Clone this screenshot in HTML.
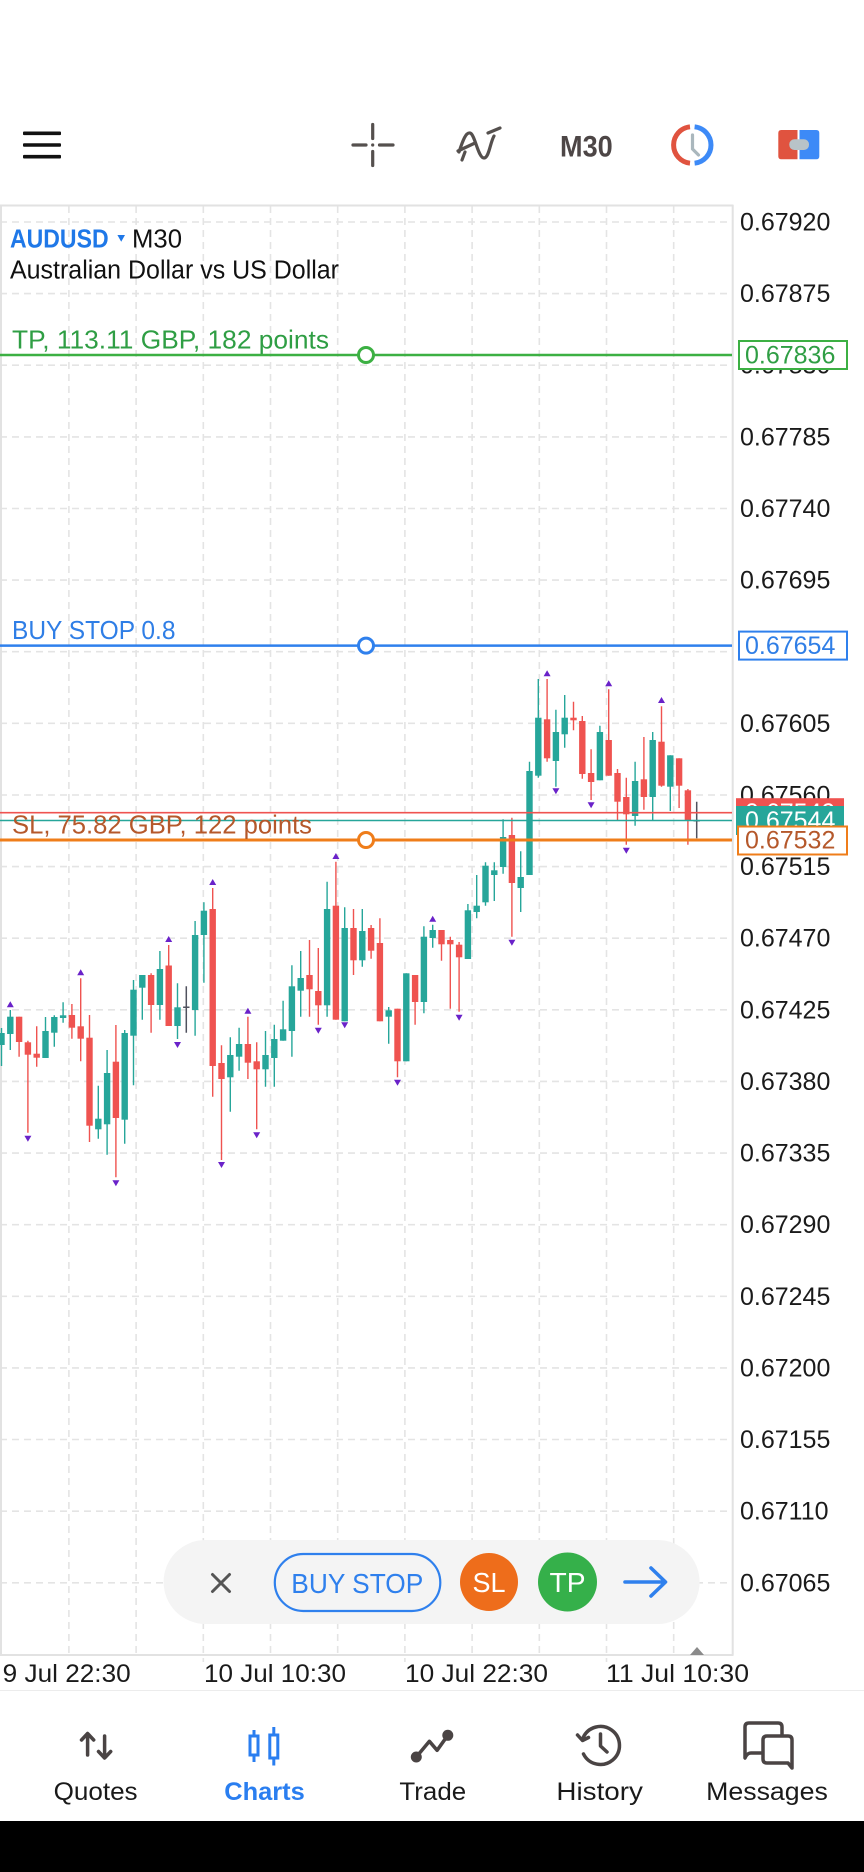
<!DOCTYPE html>
<html><head><meta charset="utf-8"><style>
html,body{margin:0;padding:0;background:#fff;}
svg{display:block;}
text{font-family:"Liberation Sans",sans-serif;}
</style></head><body>
<svg width="864" height="1872" viewBox="0 0 864 1872" xmlns="http://www.w3.org/2000/svg">
<rect x="0" y="0" width="864" height="1872" fill="#fff"/>

<!-- toolbar -->
<g fill="#111">
<rect x="23" y="131.5" width="38" height="3.6" rx="1"/>
<rect x="23" y="143.2" width="38" height="3.6" rx="1"/>
<rect x="23" y="154.9" width="38" height="3.6" rx="1"/>
</g>
<g stroke="#55504e" stroke-width="3.2" stroke-linecap="round" fill="none">
<path d="M353 145H366M379.5 145H393M372.7 124.5V138.5M372.7 151.5V165.5"/>
<path d="M459 152C463 140 466 132 470 133C475 134 478 158 484 158C489 158 490 143 494 136"/>
<path d="M458 151L475 143M488 133L500 128M462 160L465 152"/>
</g>
<circle cx="372.7" cy="145" r="1.6" fill="#55504e"/>
<text x="560" y="156.5" font-size="30" font-weight="bold" fill="#4d4646" textLength="52.7" lengthAdjust="spacingAndGlyphs">M30</text>
<path d="M690 126.8A18.3 18.3 0 0 0 690 163.2" stroke="#e0533f" stroke-width="5" fill="none"/>
<path d="M694.6 126.8A18.3 18.3 0 0 1 694.6 163.2" stroke="#3d8af7" stroke-width="5" fill="none"/>
<path d="M692.5 135V149L698.5 155" stroke="#aab7bd" stroke-width="3.2" fill="none" stroke-linecap="round"/>
<path d="M781.3 130H797.5V159.3H781.3Q778.3 159.3 778.3 156.3V133Q778.3 130 781.3 130Z" fill="#e0533f"/>
<path d="M799.5 130H816.3Q819.3 130 819.3 133V156.3Q819.3 159.3 816.3 159.3H799.5Z" fill="#3d8af7"/>
<rect x="789.3" y="139.3" width="19.7" height="10.7" rx="5" fill="#b8c3c8"/>

<!-- grid -->
<g stroke="#e4e4e4" stroke-width="1.6" stroke-dasharray="7 5" fill="none">
<path d="M0 222H732M0 293.6H732M0 365.2H732M0 436.9H732M0 508.5H732M0 580.1H732M0 651.7H732M0 723.3H732M0 795H732M0 866.6H732M0 938.2H732M0 1009.8H732M0 1081.4H732M0 1153.1H732M0 1224.7H732M0 1296.3H732M0 1367.9H732M0 1439.5H732M0 1511.2H732M0 1582.8H732"/>
<path d="M68.9 206V1655M136.1 206V1655M203.3 206V1662M270.5 206V1655M337.7 206V1655M404.9 206V1662M472.1 206V1655M539.3 206V1655M606.5 206V1662M673.7 206V1655"/>
</g>
<g stroke="#e2e2e2" stroke-width="2" fill="none">
<path d="M0 205.5H733.5M732.7 205V1655M0 1655H733.5M1 205V1655"/>
</g>

<!-- candles teal -->
<path stroke="#26a69a" stroke-width="1.4" fill="none" d="M1.5 1028V1066M10.3 1010V1050M45.5 1017V1058M54.3 1015.3V1046.7M63.1 1002.3V1022.7M98.3 1085.7V1138.7M107.1 1050V1154.7M124.7 1030V1143.7M133.5 980V1085.3M142.3 975V1019.7M159.9 951V1019.7M177.5 983.3V1039M195.1 921V1035.7M203.9 902.3V982.7M230.3 1037.3V1111.7M239.1 1027.7V1070.7M265.5 1031V1086.7M274.3 1024.7V1086.7M283.1 1000.7V1040.7M291.9 965.3V1056.7M300.7 951V1016.7M327.1 881.7V1016.7M344.7 907.3V1021.3M362.3 909V966.7M388.7 1007V1043.7M406.3 973.3V1061.3M423.9 926.3V1013.3M432.7 924.7V947.7M467.9 904V959M476.7 875V918.3M485.5 862.3V905.7M494.3 862.3V901M503.1 819.3V873.7M520.7 851.3V912M529.5 761.7V875M538.3 679V777.7M555.9 709.7V786.7M564.7 695V747.7M599.9 725.7V780.3M635.1 761.7V825.7M652.7 732V820.3M670.3 755.3V811"/>
<g fill="#26a69a">
<rect x="-1.7" y="1033" width="6.4" height="12"/>
<rect x="7.1" y="1016.7" width="6.4" height="17.3"/>
<rect x="42.3" y="1031" width="6.4" height="27"/>
<rect x="51.1" y="1017" width="6.4" height="15.7"/>
<rect x="59.9" y="1015.3" width="6.4" height="2.7"/>
<rect x="95.1" y="1118.7" width="6.4" height="10.6"/>
<rect x="103.9" y="1073" width="6.4" height="51.3"/>
<rect x="121.5" y="1033" width="6.4" height="86.7"/>
<rect x="130.3" y="989.7" width="6.4" height="46"/>
<rect x="139.1" y="975" width="6.4" height="12.7"/>
<rect x="156.7" y="969" width="6.4" height="36"/>
<rect x="174.3" y="1007.3" width="6.4" height="18.7"/>
<rect x="191.9" y="935" width="6.4" height="75"/>
<rect x="200.7" y="910.7" width="6.4" height="24.3"/>
<rect x="227.1" y="1055" width="6.4" height="22.3"/>
<rect x="235.9" y="1044" width="6.4" height="12.7"/>
<rect x="262.3" y="1055" width="6.4" height="14.3"/>
<rect x="271.1" y="1039" width="6.4" height="19"/>
<rect x="279.9" y="1029.3" width="6.4" height="11.4"/>
<rect x="288.7" y="986.3" width="6.4" height="44.7"/>
<rect x="297.5" y="978" width="6.4" height="12.7"/>
<rect x="323.9" y="909" width="6.4" height="96.3"/>
<rect x="341.5" y="928" width="6.4" height="93.3"/>
<rect x="359.1" y="931" width="6.4" height="29.3"/>
<rect x="385.5" y="1010.3" width="6.4" height="6.4"/>
<rect x="403.1" y="973.3" width="6.4" height="88"/>
<rect x="420.7" y="936.7" width="6.4" height="65.3"/>
<rect x="429.5" y="930" width="6.4" height="8"/>
<rect x="464.7" y="910.3" width="6.4" height="48.7"/>
<rect x="473.5" y="905.7" width="6.4" height="6.3"/>
<rect x="482.3" y="865.7" width="6.4" height="36.6"/>
<rect x="491.1" y="870.3" width="6.4" height="4.7"/>
<rect x="499.9" y="837" width="6.4" height="30"/>
<rect x="517.5" y="877" width="6.4" height="11"/>
<rect x="526.3" y="771" width="6.4" height="104"/>
<rect x="535.1" y="717.7" width="6.4" height="58"/>
<rect x="552.7" y="732" width="6.4" height="29"/>
<rect x="561.5" y="717.7" width="6.4" height="16.6"/>
<rect x="596.7" y="732" width="6.4" height="48.3"/>
<rect x="631.9" y="781" width="6.4" height="35"/>
<rect x="649.5" y="740" width="6.4" height="57"/>
<rect x="667.1" y="755.3" width="6.4" height="31.4"/>
</g>

<!-- candles red -->
<path stroke="#ef5350" stroke-width="1.4" fill="none" d="M19.1 1016.7V1056.7M27.9 1040.7V1132.7M36.7 1026.3V1066.7M71.9 1004V1038.7M80.7 978.3V1061.3M89.5 1015V1142M115.9 1025V1177.3M151.1 973.3V1032.7M168.7 945V1026M212.7 888V1096.7M221.5 1045.3V1160M247.9 1016.7V1079M256.7 1042.3V1129.3M309.5 940V1016.7M318.3 948V1024.7M335.9 861.7V1019.7M353.5 909V975M371.1 925V958.7M379.9 918.3V1021.3M397.5 1008.7V1077.3M415.1 975V1024.7M441.5 930V960.7M450.3 936.7V1008.7M459.1 942V1011.7M511.9 817.7V936.7M547.1 679V761.7M573.5 701.7V730.3M582.3 716V778.7M591.1 749.3V800M608.7 689.3V775.7M617.5 769V820.3M626.3 777.7V844.7M643.9 737V809.7M661.5 706.3V786.7M679.1 758.3V808M687.9 789V844.7"/>
<g fill="#ef5350">
<rect x="15.9" y="1016.7" width="6.4" height="25.3"/>
<rect x="24.7" y="1042.3" width="6.4" height="12.4"/>
<rect x="33.5" y="1053.7" width="6.4" height="4"/>
<rect x="68.7" y="1015" width="6.4" height="12.7"/>
<rect x="77.5" y="1026.3" width="6.4" height="12.4"/>
<rect x="86.3" y="1037.7" width="6.4" height="88"/>
<rect x="112.7" y="1061.7" width="6.4" height="56.3"/>
<rect x="147.9" y="975" width="6.4" height="30"/>
<rect x="165.5" y="965.5" width="6.4" height="60.5"/>
<rect x="209.5" y="909" width="6.4" height="157"/>
<rect x="218.3" y="1063" width="6.4" height="16"/>
<rect x="244.7" y="1044" width="6.4" height="18.7"/>
<rect x="253.5" y="1061.3" width="6.4" height="8"/>
<rect x="306.3" y="975" width="6.4" height="14.3"/>
<rect x="315.1" y="991" width="6.4" height="14.3"/>
<rect x="332.7" y="905.7" width="6.4" height="114"/>
<rect x="350.3" y="928" width="6.4" height="32.3"/>
<rect x="367.9" y="928" width="6.4" height="22.7"/>
<rect x="376.7" y="943" width="6.4" height="78.3"/>
<rect x="394.3" y="1008.7" width="6.4" height="52.6"/>
<rect x="411.9" y="975" width="6.4" height="27"/>
<rect x="438.3" y="930" width="6.4" height="14.3"/>
<rect x="447.1" y="940" width="6.4" height="4.3"/>
<rect x="455.9" y="944.7" width="6.4" height="12.6"/>
<rect x="508.7" y="835" width="6.4" height="48"/>
<rect x="543.9" y="719.3" width="6.4" height="39"/>
<rect x="570.3" y="717.7" width="6.4" height="2.6"/>
<rect x="579.1" y="721" width="6.4" height="53"/>
<rect x="587.9" y="773" width="6.4" height="9"/>
<rect x="605.5" y="740" width="6.4" height="35.7"/>
<rect x="614.3" y="773" width="6.4" height="28.7"/>
<rect x="623.1" y="797" width="6.4" height="17.3"/>
<rect x="640.7" y="779.3" width="6.4" height="17.7"/>
<rect x="658.3" y="741.7" width="6.4" height="44"/>
<rect x="675.9" y="758.3" width="6.4" height="27.4"/>
<rect x="684.7" y="790.3" width="6.4" height="30.4"/>
</g>
<!-- doji / current -->
<path stroke="#50525e" stroke-width="1.5" fill="none" d="M186.3 986.3V1032.7M183.1 1007.3H189.5M696.7 801.7V838.3M693.5 820.7H699.9"/>

<!-- fractals -->
<path fill="#6a22c9" d="M6.8 1007.3L13.8 1007.3L10.3 1001.3ZM24.4 1135.7L31.4 1135.7L27.9 1141.7ZM77.2 975.3L84.2 975.3L80.7 969.3ZM112.4 1180.3L119.4 1180.3L115.9 1186.3ZM165.2 942L172.2 942L168.7 936ZM174 1042L181 1042L177.5 1048ZM209.2 885L216.2 885L212.7 879ZM218 1162L225 1162L221.5 1168ZM244.4 1013.7L251.4 1013.7L247.9 1007.7ZM253.2 1132.3L260.2 1132.3L256.7 1138.3ZM314.8 1027.7L321.8 1027.7L318.3 1033.7ZM332.4 859L339.4 859L335.9 853ZM341.2 1022.3L348.2 1022.3L344.7 1028.3ZM394 1079.7L401 1079.7L397.5 1085.7ZM429.2 921.7L436.2 921.7L432.7 915.7ZM455.6 1014.7L462.6 1014.7L459.1 1020.7ZM508.4 939.7L515.4 939.7L511.9 945.7ZM543.6 676.3L550.6 676.3L547.1 670.3ZM552.4 788.3L559.4 788.3L555.9 794.3ZM587.6 802.3L594.6 802.3L591.1 808.3ZM605.2 686.3L612.2 686.3L608.7 680.3ZM622.8 847.7L629.8 847.7L626.3 853.7ZM658 703L665 703L661.5 697Z"/>

<!-- header text -->
<text x="10" y="247.5" font-size="25.5" font-weight="bold" fill="#1f78e8" textLength="98.6" lengthAdjust="spacingAndGlyphs">AUDUSD</text>
<path d="M117.4 235L125 235L121.2 241.7Z" fill="#1f78e8"/>
<text x="132" y="247.5" font-size="25.5" fill="#111" textLength="50" lengthAdjust="spacingAndGlyphs">M30</text>
<text x="10" y="278.5" font-size="25.5" fill="#111" textLength="329" lengthAdjust="spacingAndGlyphs">Australian Dollar vs US Dollar</text>

<!-- order lines -->
<path d="M0 355H732" stroke="#3cb043" stroke-width="2.5"/>
<path d="M0 645.6H732" stroke="#2f80ed" stroke-width="2.5"/>
<path d="M0 812.7H732" stroke="#ef5350" stroke-width="1.6"/>
<path d="M0 820.5H732" stroke="#26a69a" stroke-width="1.6"/>
<path d="M0 840H732" stroke="#ef7d1a" stroke-width="3"/>
<text x="12" y="348.5" font-size="26" fill="#2f9e44" textLength="317" lengthAdjust="spacingAndGlyphs">TP, 113.11 GBP, 182 points</text>
<text x="12" y="639" font-size="26" fill="#2f7ee6" textLength="163.5" lengthAdjust="spacingAndGlyphs">BUY STOP 0.8</text>
<text x="12" y="833.3" font-size="26" fill="#b5582b" textLength="300" lengthAdjust="spacingAndGlyphs">SL, 75.82 GBP, 122 points</text>
<circle cx="366" cy="355" r="7.5" fill="#fff" stroke="#3cb043" stroke-width="3"/>
<circle cx="366" cy="645.6" r="7.5" fill="#fff" stroke="#2f80ed" stroke-width="3"/>
<circle cx="366" cy="840" r="7.5" fill="#fff" stroke="#ef7d1a" stroke-width="3"/>

<!-- price axis labels -->
<g font-size="25" fill="#1a1a1a">
<text x="740" y="230.5">0.67920</text>
<text x="740" y="302.1">0.67875</text>
<text x="740" y="373.7">0.67830</text>
<text x="740" y="445.4">0.67785</text>
<text x="740" y="517">0.67740</text>
<text x="740" y="588.6">0.67695</text>
<text x="740" y="660.2">0.67650</text>
<text x="740" y="731.8">0.67605</text>
<text x="740" y="803.5">0.67560</text>
<text x="740" y="875.1">0.67515</text>
<text x="740" y="946.7">0.67470</text>
<text x="740" y="1018.3">0.67425</text>
<text x="740" y="1089.9">0.67380</text>
<text x="740" y="1161.6">0.67335</text>
<text x="740" y="1233.2">0.67290</text>
<text x="740" y="1304.8">0.67245</text>
<text x="740" y="1376.4">0.67200</text>
<text x="740" y="1448">0.67155</text>
<text x="740" y="1519.7">0.67110</text>
<text x="740" y="1591.3">0.67065</text>
</g>
<!-- price boxes -->
<rect x="739" y="341" width="108" height="28" fill="#fff" stroke="#3cb043" stroke-width="2"/>
<text x="745" y="363.5" font-size="25" fill="#2f9e44">0.67836</text>
<rect x="739" y="631.6" width="108" height="28" fill="#fff" stroke="#2f80ed" stroke-width="2"/>
<text x="745" y="654.1" font-size="25" fill="#2f7ee6">0.67654</text>
<rect x="736" y="798.2" width="108" height="29" fill="#ef5350"/>
<text x="745" y="821.2" font-size="25" fill="#fff">0.67549</text>
<rect x="736" y="806" width="108" height="29" fill="#26a69a"/>
<text x="745" y="829" font-size="25" fill="#fff">0.67544</text>
<rect x="738" y="826.5" width="109" height="28" fill="#fff" stroke="#ef7d1a" stroke-width="2"/>
<text x="745" y="848.5" font-size="25" fill="#b5582b">0.67532</text>

<!-- time axis -->
<path d="M690 1655L704 1655L697 1647Z" fill="#8a8a8a"/>
<g font-size="25" fill="#1a1a1a">
<text x="2.7" y="1682" textLength="128" lengthAdjust="spacingAndGlyphs">9 Jul 22:30</text>
<text x="204" y="1682" textLength="142" lengthAdjust="spacingAndGlyphs">10 Jul 10:30</text>
<text x="405" y="1682" textLength="143" lengthAdjust="spacingAndGlyphs">10 Jul 22:30</text>
<text x="606" y="1682" textLength="143" lengthAdjust="spacingAndGlyphs">11 Jul 10:30</text>
</g>

<!-- floating order pill -->
<rect x="163.6" y="1540" width="536" height="84" rx="42" fill="#f4f4f4"/>
<path d="M212.5 1574.5L229.5 1591.5M229.5 1574.5L212.5 1591.5" stroke="#555" stroke-width="3" stroke-linecap="round"/>
<rect x="274.8" y="1554" width="165.5" height="57" rx="28.5" fill="none" stroke="#2f80ed" stroke-width="2.2"/>
<text x="357.3" y="1593" font-size="28" fill="#2f80ed" text-anchor="middle" textLength="132" lengthAdjust="spacingAndGlyphs">BUY STOP</text>
<circle cx="489" cy="1582" r="29" fill="#ee6d1b"/>
<text x="489" y="1592" font-size="28" fill="#fff" text-anchor="middle" textLength="33" lengthAdjust="spacingAndGlyphs">SL</text>
<circle cx="567.5" cy="1582" r="29.5" fill="#35b04a"/>
<text x="567.5" y="1592" font-size="28" fill="#fff" text-anchor="middle" textLength="36" lengthAdjust="spacingAndGlyphs">TP</text>
<path d="M625 1582H665M651 1568L665.5 1582L651 1596" stroke="#2f80ed" stroke-width="3.6" fill="none" stroke-linecap="round" stroke-linejoin="round"/>

<!-- bottom nav -->
<path d="M0 1690.5H864" stroke="#ececec" stroke-width="1"/>
<g stroke="#4a4444" stroke-width="3.5" fill="none" stroke-linecap="round" stroke-linejoin="round">
<path d="M87.6 1734V1755M81.5 1740L87.6 1733.5L93.7 1740"/>
<path d="M104.6 1736V1757.5M98.5 1751.5L104.6 1758L110.7 1751.5"/>
<path d="M416.3 1757L429.4 1741.3L437.1 1750.3L447.8 1735.3"/>
<path d="M583 1738A19 19 0 1 1 583.5 1754M577.5 1735L582.5 1740.5L588.5 1737.5"/>
<path d="M600.5 1734V1746L607 1752"/>
<path d="M763 1753H751Q748 1753 746 1756L745 1758V1727Q745 1723 749 1723H778Q782 1723 782 1727V1736"/>
<path d="M767 1736H788Q792 1736 792 1740V1768L788 1763H767Q763 1763 763 1759V1740Q763 1736 767 1736Z" fill="#fff"/>
</g>
<circle cx="416.3" cy="1757" r="5.5" fill="#4a4444"/>
<circle cx="447.8" cy="1735.3" r="5.5" fill="#4a4444"/>
<g stroke="#2a7ef0" stroke-width="3" fill="#fff">
<path d="M254 1730V1762M273.8 1727V1765.5" fill="none"/>
<rect x="250" y="1736" width="8" height="19"/>
<rect x="269.8" y="1735" width="8" height="23"/>
</g>
<g font-size="25" fill="#1a1a1a" text-anchor="middle">
<text x="95.6" y="1800" textLength="84" lengthAdjust="spacingAndGlyphs">Quotes</text>
<text x="264.5" y="1800" font-weight="bold" fill="#2a7ef0" textLength="80.5" lengthAdjust="spacingAndGlyphs">Charts</text>
<text x="432.8" y="1800" textLength="66.7" lengthAdjust="spacingAndGlyphs">Trade</text>
<text x="599.7" y="1800" textLength="86.5" lengthAdjust="spacingAndGlyphs">History</text>
<text x="767" y="1800" textLength="121.8" lengthAdjust="spacingAndGlyphs">Messages</text>
</g>
<rect x="0" y="1821" width="864" height="51" fill="#000"/>
</svg>
</body></html>
